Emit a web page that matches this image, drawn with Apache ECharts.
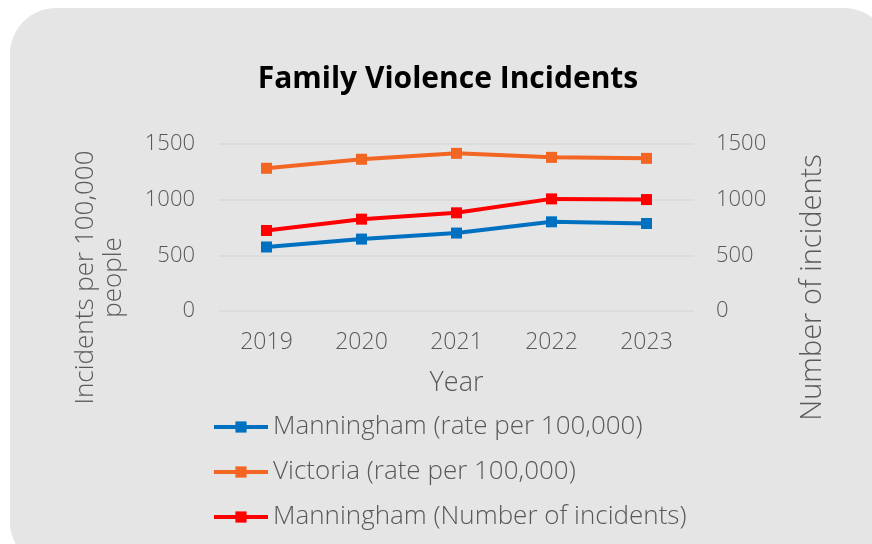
<!DOCTYPE html>
<html>
<head>
<meta charset="utf-8">
<script src="https://cdn.jsdelivr.net/npm/echarts@6/dist/echarts.min.js"></script>
<style>
html, body { margin: 0; padding: 0; background: #fff; }
#main { width: 872px; height: 544px; }
</style>
</head>
<body>
<div id="main"></div>
<script>
var years = ['2019', '2020', '2021', '2022', '2023'];
var manninghamRate = [575, 646, 700, 801, 786];
var victoriaRate = [1282, 1363, 1416, 1380, 1371];
var manninghamCount = [723, 825, 882, 1007, 1001];

var font = 'Open Sans';
var grey = '#595959';
var plain = function (v) { return String(v); };

var chart = echarts.init(document.getElementById('main'));
var option = {
    backgroundColor: '#fff',
    graphic: [{
        type: 'rect',
        z: -10,
        shape: { x: 10, y: 8, width: 880, height: 560, r: 46 },
        style: { fill: '#e5e5e5' }
    }],
    title: {
        text: 'Family Violence Incidents',
        left: 443,
        top: 59,
        textAlign: 'center',
        textStyle: { fontFamily: font, fontWeight: 'bold', fontSize: 30, color: '#000' }
    },
    legend: {
        orient: 'vertical',
        left: 207,
        top: 409,
        itemGap: 19,
        itemWidth: 54,
        itemHeight: 14,
        lineStyle: { width: 4 },
        textStyle: { fontFamily: font, fontSize: 26, color: grey, fontWeight: 300 },
        data: ['Manningham (rate per 100,000)', 'Victoria (rate per 100,000)', 'Manningham (Number of incidents)']
    },
    grid: { left: 219, right: 178, top: 144, bottom: 233 },
    xAxis: {
        type: 'category',
        data: years,
        name: 'Year',
        nameLocation: 'middle',
        nameGap: 59,
        nameTextStyle: { fontFamily: font, fontSize: 27, color: grey, fontWeight: 300 },
        axisLine: { show: false },
        axisTick: { show: false },
        axisLabel: { fontFamily: font, fontSize: 23, color: grey, fontWeight: 300, margin: 20 }
    },
    yAxis: [{
        type: 'value',
        min: 0, max: 1500, interval: 500,
        name: 'Incidents per 100,000\npeople',
        nameLocation: 'middle',
        nameGap: 91,
        nameRotate: 90,
        nameTextStyle: { fontFamily: font, fontSize: 26, color: grey, fontWeight: 300, lineHeight: 28, padding: [0, 100, 0, 0] },
        axisLine: { show: false },
        axisTick: { show: false },
        axisLabel: { fontFamily: font, fontSize: 22, color: grey, fontWeight: 300, margin: 24, formatter: plain },
        splitLine: { lineStyle: { color: '#d9d9d9', width: 1.5 } }
    }, {
        type: 'value',
        min: 0, max: 1500, interval: 500,
        name: 'Number of incidents',
        nameLocation: 'middle',
        nameGap: 104,
        nameRotate: 90,
        nameTextStyle: { fontFamily: font, fontSize: 29, color: grey, fontWeight: 300, padding: [0, 120, 0, 0] },
        axisLine: { show: false },
        axisTick: { show: false },
        axisLabel: { fontFamily: font, fontSize: 22, color: grey, fontWeight: 300, margin: 22, formatter: plain },
        splitLine: { show: false }
    }],
    series: [{
        name: 'Manningham (rate per 100,000)',
        type: 'line',
        data: manninghamRate,
        color: '#0070c0',
        symbol: 'rect',
        symbolSize: 11,
        lineStyle: { width: 4 }
    }, {
        name: 'Victoria (rate per 100,000)',
        type: 'line',
        data: victoriaRate,
        color: '#f26522',
        symbol: 'rect',
        symbolSize: 11,
        lineStyle: { width: 4 }
    }, {
        name: 'Manningham (Number of incidents)',
        type: 'line',
        yAxisIndex: 1,
        data: manninghamCount,
        color: '#ff0000',
        symbol: 'rect',
        symbolSize: 11,
        lineStyle: { width: 4 }
    }]
};
chart.setOption(option);
</script>
</body>
</html>
